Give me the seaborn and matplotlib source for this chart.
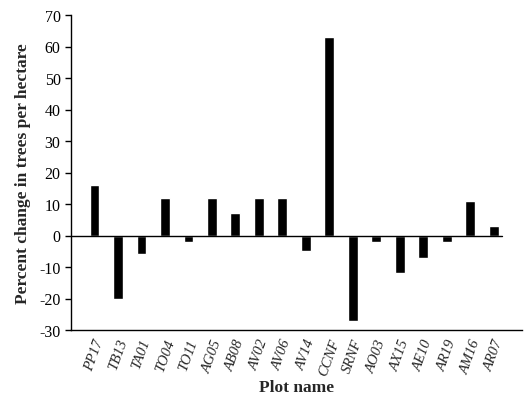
import matplotlib
matplotlib.use("Agg")
import matplotlib.pyplot as plt
import seaborn as sns
import pandas as pd

plots = ["PP17", "TB13", "TA01", "TO04", "TO11", "AG05", "AB08", "AV02", "AV06",
         "AV14", "CCNF", "SRNF", "AO03", "AX15", "AE10", "AR19", "AM16", "AR07"]
change = [16, -20, -6, 12, -2, 12, 7, 12, 12, -5, 63, -27, -2, -12, -7, -2, 11, 3]

df = pd.DataFrame({"plot": plots, "change": change})

sns.set_style("ticks")
plt.rcParams["font.family"] = ["Liberation Serif", "DejaVu Serif"]
plt.rcParams["axes.unicode_minus"] = False

fig = plt.figure(figsize=(5.27, 4.02), dpi=100)
ax = fig.add_axes([71 / 527, 1 - 331 / 402, (522 - 71) / 527, (331 - 16) / 402])

sns.barplot(data=df, x="plot", y="change", color="black", width=0.42,
            saturation=1, ax=ax)
ax.axhline(0, color="black", lw=1, xmin=0, xmax=0.955)

ax.set_ylim(-30, 70)
ax.set_xlim(-1.0, 18.2)
ax.set_yticks(range(-30, 71, 10))
sns.despine(ax=ax)
for s in ["left", "bottom"]:
    ax.spines[s].set_linewidth(1)
    ax.spines[s].set_color("black")
ax.tick_params(axis="y", labelsize=11.5, length=4, width=1, colors="black")
ax.tick_params(axis="x", length=0, pad=5)
for lbl in ax.get_xticklabels():
    lbl.set_rotation(70)
    lbl.set_style("italic")
    lbl.set_fontsize(10.5)
    lbl.set_ha("center")

ax.set_xlabel("Plot name", fontsize=12.5, fontweight="bold", labelpad=1)
ax.set_ylabel("Percent change in trees per hectare", fontsize=12.5,
              fontweight="bold", labelpad=6)

fig.savefig("out.png", dpi=100)
